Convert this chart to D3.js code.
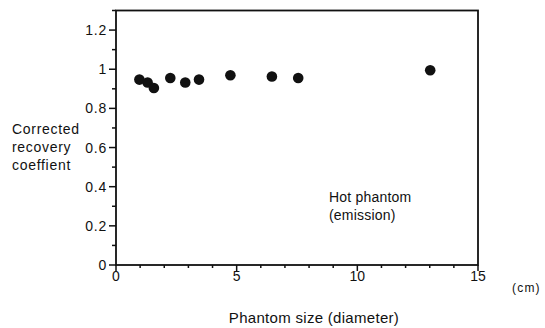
<!DOCTYPE html>
<html><head><meta charset="utf-8">
<script src="https://cdn.jsdelivr.net/npm/d3@7"></script>
<style>body{margin:0;background:#fff}svg{display:block}text{font-family:"Liberation Sans",Arial,sans-serif;fill:#111}</style>
</head><body><svg id="c" width="545" height="328"></svg>
<script>
const sizes = [0.97, 1.31, 1.57, 2.25, 2.87, 3.44, 4.74, 6.46, 7.55, 13.02];
const coeffs = [0.947, 0.932, 0.904, 0.955, 0.932, 0.947, 0.969, 0.963, 0.955, 0.995];
const xTicks = [0, 5, 10, 15];
const yTicks = [0, 0.2, 0.4, 0.6, 0.8, 1, 1.2];
const yTickLabels = ["0", "0.2", "0.4", "0.6", "0.8", "1", "1.2"];

const svg = d3.select("#c");
const x = d3.scaleLinear().domain([0, 15]).range([116, 478]);
const y = d3.scaleLinear().domain([0, 1.3]).range([265, 10.5]);
const col = "#111";

// frame
svg.append("rect").attr("x", x(0)).attr("y", y(1.3)).attr("width", x(15) - x(0)).attr("height", y(0) - y(1.3))
  .attr("fill", "none").attr("stroke", col).attr("stroke-width", 1.8);

// y axis ticks
const yMinor = d3.range(0, 1.31, 0.1).map(v => +v.toFixed(2));
svg.selectAll(".ym").data(yMinor).join("line")
  .attr("x1", x(0)).attr("x2", d => x(0) - (Math.round(d * 10) % 2 === 0 ? 7 : 4))
  .attr("y1", d => y(d)).attr("y2", d => y(d)).attr("stroke", col).attr("stroke-width", 1.5);
svg.selectAll(".yl").data(yTicks).join("text")
  .attr("x", x(0) - 9).attr("y", d => y(d) + 5).attr("text-anchor", "end").attr("font-size", 14)
  .attr("letter-spacing", 0.8)
  .text((d, i) => yTickLabels[i]);

// x axis ticks
const xMinor = d3.range(0, 16, 1);
svg.selectAll(".xm").data(xMinor).join("line")
  .attr("x1", d => x(d)).attr("x2", d => x(d))
  .attr("y1", y(0)).attr("y2", d => y(0) + (d % 5 === 0 ? 6 : 3)).attr("stroke", col).attr("stroke-width", 1.5);
svg.selectAll(".xl").data(xTicks).join("text")
  .attr("x", d => x(d)).attr("y", 281).attr("text-anchor", "middle").attr("font-size", 14)
  .text(d => d);

// points
svg.selectAll(".pt").data(sizes).join("circle")
  .attr("cx", d => x(d)).attr("cy", (d, i) => y(coeffs[i])).attr("r", 5.3).attr("fill", col);

// labels
const yl = svg.append("text").attr("font-size", 14).attr("letter-spacing", 0.7);
["Corrected", "recovery", "coeffient"].forEach((t, i) => yl.append("tspan").attr("x", 12).attr("y", 134 + i * 18).text(t));
const ann = svg.append("text").attr("font-size", 14).attr("letter-spacing", 0.2);
["Hot phantom", "(emission)"].forEach((t, i) => ann.append("tspan").attr("x", 329).attr("y", 202 + i * 18).text(t));
svg.append("text").attr("x", 314).attr("y", 323).attr("text-anchor", "middle").attr("font-size", 15)
  .attr("letter-spacing", 0.3).text("Phantom size (diameter)");
svg.append("text").attr("x", 512).attr("y", 292).attr("font-size", 12).attr("letter-spacing", 1.2).text("(cm)");
</script></body></html>
